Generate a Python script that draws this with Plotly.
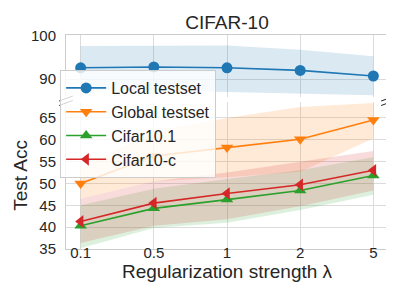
import plotly.graph_objects as go

# ---------------- data ----------------
lambdas = ["0.1", "0.5", "1", "2", "5"]

local_mean = [92.6, 92.8, 92.6, 92.0, 90.7]
local_upper = [97.7, 97.8, 97.8, 96.8, 95.3]
local_lower = [87.4, 87.3, 87.0, 86.6, 86.2]

global_mean = [50.0, 56.3, 58.2, 60.1, 64.5]
global_upper = [53.5, 62.0, 65.0, 67.5, 68.4]
global_lower = [46.5, 50.5, 51.4, 52.7, 60.3]

c101_mean = [40.3, 44.3, 46.3, 48.4, 51.8]
c101_upper = [45.0, 48.8, 51.0, 53.0, 56.0]
c101_lower = [35.2, 39.8, 41.0, 43.9, 47.4]

cc_mean = [41.3, 45.5, 47.7, 49.7, 53.0]
cc_upper = [46.5, 50.5, 52.5, 55.0, 57.4]
cc_lower = [36.4, 40.3, 41.8, 44.8, 48.4]

series = [
    ("Local testset", local_mean, local_upper, local_lower, "#1f77b4", "circle", "top"),
    ("Global testset", global_mean, global_upper, global_lower, "#ff7f0e", "triangle-down", "bottom"),
    ("Cifar10.1", c101_mean, c101_upper, c101_lower, "#2ca02c", "triangle-up", "bottom"),
    ("Cifar10-c", cc_mean, cc_upper, cc_lower, "#d62728", "triangle-left", "bottom"),
]

def rgba(hexc, a):
    h = hexc.lstrip("#")
    return "rgba(%d,%d,%d,%s)" % (int(h[0:2], 16), int(h[2:4], 16), int(h[4:6], 16), a)

fig = go.Figure()

# bands first
for name, m, up, lo, col, sym, panel in series:
    xa, ya = ("x2", "y2") if panel == "top" else ("x", "y")
    fig.add_trace(go.Scatter(x=lambdas, y=up, mode="lines", line=dict(width=0),
                             showlegend=False, hoverinfo="skip", xaxis=xa, yaxis=ya))
    fig.add_trace(go.Scatter(x=lambdas, y=lo, mode="lines", line=dict(width=0),
                             fill="tonexty", fillcolor=rgba(col, 0.16),
                             showlegend=False, hoverinfo="skip", xaxis=xa, yaxis=ya))

# mean lines
for name, m, up, lo, col, sym, panel in series:
    xa, ya = ("x2", "y2") if panel == "top" else ("x", "y")
    fig.add_trace(go.Scatter(x=lambdas, y=m, mode="lines+markers", name=name,
                             line=dict(color=col, width=1.6),
                             marker=dict(symbol=sym, size=11, color=col),
                             xaxis=xa, yaxis=ya))

# geometry (pixels)
W, H = 394, 291
L, R, T, B = 50, 380, 27, 241
top_bottom_px = 89
bot_top_px = 94

def py(p):
    return (B - p) / (B - T)

def px(p):
    return (p - L) / (R - L)

grid = "#dcdcdc"
spine = "#cccccc"
FONT = "Liberation Sans, Arial, sans-serif"
tick_font = dict(family=FONT, size=15, color="#262626")

fig.update_layout(
    width=W, height=H,
    margin=dict(l=L, r=W - R, t=T, b=H - B),
    paper_bgcolor="white", plot_bgcolor="white",
    font=dict(family=FONT, color="#262626"),
    title=dict(text="CIFAR-10", x=0.5, xanchor="center", xref="paper",
               y=1 - 14 / H, yanchor="middle",
               font=dict(size=19, color="#262626")),
    xaxis=dict(domain=[0, 1], anchor="y", type="category", range=[-0.2, 4.2],
               showgrid=True, gridcolor=grid, gridwidth=1,
               showline=True, linecolor=spine, linewidth=1, mirror=False,
               ticks="", tickfont=tick_font, ticklabelstandoff=-10,
               title=dict(text="Regularization strength λ", font=dict(size=19, color="#262626"), standoff=0),
               zeroline=False),
    xaxis2=dict(domain=[0, 1], anchor="y2", matches="x", type="category",
                showgrid=True, gridcolor=grid, gridwidth=1, showticklabels=False,
                showline=True, linecolor=spine, linewidth=1, side="top", mirror=False,
                ticks="", zeroline=False),
    yaxis=dict(domain=[0, py(bot_top_px)], anchor="x",
               range=[35, 35 + (B - bot_top_px) / 4.37],
               tickvals=[35, 40, 45, 50, 55, 60, 65],
               showgrid=True, gridcolor=grid, gridwidth=1,
               showline=True, linecolor=spine, linewidth=1, mirror=True,
               ticks="", tickfont=tick_font, ticklabelstandoff=6, zeroline=False,
               title=dict(text="Test Acc", font=dict(size=19, color="#262626"), standoff=6)),
    yaxis2=dict(domain=[py(top_bottom_px), 1], anchor="x2",
                range=[100 - (top_bottom_px - 28) / 4.3, 100 + 1 / 4.3],
                tickvals=[90, 100],
                showgrid=True, gridcolor=grid, gridwidth=1,
                showline=True, linecolor=spine, linewidth=1, mirror=True,
                ticks="", tickfont=tick_font, ticklabelstandoff=6, zeroline=False),
    legend=dict(x=px(44), y=py(62), xanchor="left", yanchor="top",
                xref="paper", yref="paper", traceorder="normal",
                bgcolor="rgba(255,255,255,0.8)", bordercolor="#cccccc", borderwidth=1,
                font=dict(size=16, color="#262626"), itemwidth=40),
    showlegend=True,
)

# break marks
shapes = []
for xp in (L, R):
    for yp in (top_bottom_px + 1.5, bot_top_px + 1):
        shapes.append(dict(type="line", xref="paper", yref="paper",
                           x0=px(xp - 7), y0=py(yp + 2.5), x1=px(xp + 7), y1=py(yp - 2.5),
                           line=dict(color="#222222", width=1)))
fig.update_layout(shapes=shapes)

fig.write_html("out.html")
